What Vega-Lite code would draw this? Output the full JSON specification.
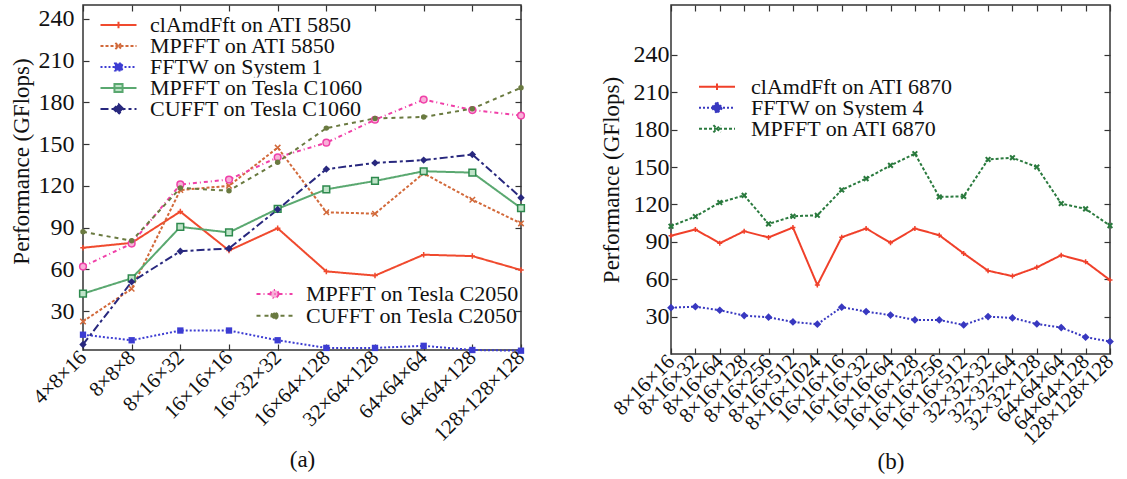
{
  "$schema": "https://vega.github.io/schema/vega-lite/v6.json",
  "background": "white",
  "padding": {"left": 9, "top": 3, "right": 5, "bottom": 0},
  "spacing": 70,
  "config": {
    "font": "Liberation Serif",
    "view": {"stroke": "#333", "strokeWidth": 1.5},
    "axis": {"domain": false, "grid": false, "labelFont": "Liberation Serif", "titleFont": "Liberation Serif", "labelColor": "#111", "titleColor": "#111", "labelFontSize": 24, "titleFontSize": 23, "titleFontWeight": "normal", "tickColor": "#333", "tickWidth": 1.2},
    "legend": {"labelFont": "Liberation Serif", "labelFontSize": 22, "labelColor": "#111", "labelLimit": 0, "padding": 0, "symbolStrokeWidth": 2, "symbolSize": 324, "clipHeight": 21, "rowPadding": 0, "symbolOffset": 9}
  },
  "datasets": {
    "a": [
      {"size": "4×8×16", "series": "clAmdFft on ATI 5850", "gflops": 75.5},
      {"size": "8×8×8", "series": "clAmdFft on ATI 5850", "gflops": 79},
      {"size": "8×16×32", "series": "clAmdFft on ATI 5850", "gflops": 101.5},
      {"size": "16×16×16", "series": "clAmdFft on ATI 5850", "gflops": 73.5},
      {"size": "16×32×32", "series": "clAmdFft on ATI 5850", "gflops": 89.5},
      {"size": "16×64×128", "series": "clAmdFft on ATI 5850", "gflops": 58.5},
      {"size": "32×64×128", "series": "clAmdFft on ATI 5850", "gflops": 55.5},
      {"size": "64×64×64", "series": "clAmdFft on ATI 5850", "gflops": 70.5},
      {"size": "64×64×128", "series": "clAmdFft on ATI 5850", "gflops": 69.5},
      {"size": "128×128×128", "series": "clAmdFft on ATI 5850", "gflops": 59.5},
      {"size": "4×8×16", "series": "MPFFT on ATI 5850", "gflops": 22.5},
      {"size": "8×8×8", "series": "MPFFT on ATI 5850", "gflops": 46},
      {"size": "8×16×32", "series": "MPFFT on ATI 5850", "gflops": 117},
      {"size": "16×16×16", "series": "MPFFT on ATI 5850", "gflops": 120},
      {"size": "16×32×32", "series": "MPFFT on ATI 5850", "gflops": 147.5},
      {"size": "16×64×128", "series": "MPFFT on ATI 5850", "gflops": 101},
      {"size": "32×64×128", "series": "MPFFT on ATI 5850", "gflops": 100},
      {"size": "64×64×64", "series": "MPFFT on ATI 5850", "gflops": 129},
      {"size": "64×64×128", "series": "MPFFT on ATI 5850", "gflops": 110},
      {"size": "128×128×128", "series": "MPFFT on ATI 5850", "gflops": 93},
      {"size": "4×8×16", "series": "FFTW on System 1", "gflops": 13},
      {"size": "8×8×8", "series": "FFTW on System 1", "gflops": 9},
      {"size": "8×16×32", "series": "FFTW on System 1", "gflops": 16},
      {"size": "16×16×16", "series": "FFTW on System 1", "gflops": 16},
      {"size": "16×32×32", "series": "FFTW on System 1", "gflops": 9},
      {"size": "16×64×128", "series": "FFTW on System 1", "gflops": 3.5},
      {"size": "32×64×128", "series": "FFTW on System 1", "gflops": 3.5},
      {"size": "64×64×64", "series": "FFTW on System 1", "gflops": 5},
      {"size": "64×64×128", "series": "FFTW on System 1", "gflops": 2},
      {"size": "128×128×128", "series": "FFTW on System 1", "gflops": 1.5},
      {"size": "4×8×16", "series": "MPFFT on Tesla C1060", "gflops": 42.5},
      {"size": "8×8×8", "series": "MPFFT on Tesla C1060", "gflops": 53.5},
      {"size": "8×16×32", "series": "MPFFT on Tesla C1060", "gflops": 90.5},
      {"size": "16×16×16", "series": "MPFFT on Tesla C1060", "gflops": 86.5},
      {"size": "16×32×32", "series": "MPFFT on Tesla C1060", "gflops": 103.5},
      {"size": "16×64×128", "series": "MPFFT on Tesla C1060", "gflops": 117.5},
      {"size": "32×64×128", "series": "MPFFT on Tesla C1060", "gflops": 123.5},
      {"size": "64×64×64", "series": "MPFFT on Tesla C1060", "gflops": 130.5},
      {"size": "64×64×128", "series": "MPFFT on Tesla C1060", "gflops": 129.5},
      {"size": "128×128×128", "series": "MPFFT on Tesla C1060", "gflops": 104},
      {"size": "4×8×16", "series": "CUFFT on Tesla C1060", "gflops": 6},
      {"size": "8×8×8", "series": "CUFFT on Tesla C1060", "gflops": 51},
      {"size": "8×16×32", "series": "CUFFT on Tesla C1060", "gflops": 73},
      {"size": "16×16×16", "series": "CUFFT on Tesla C1060", "gflops": 75},
      {"size": "16×32×32", "series": "CUFFT on Tesla C1060", "gflops": 103},
      {"size": "16×64×128", "series": "CUFFT on Tesla C1060", "gflops": 132},
      {"size": "32×64×128", "series": "CUFFT on Tesla C1060", "gflops": 136.5},
      {"size": "64×64×64", "series": "CUFFT on Tesla C1060", "gflops": 138.5},
      {"size": "64×64×128", "series": "CUFFT on Tesla C1060", "gflops": 142.5},
      {"size": "128×128×128", "series": "CUFFT on Tesla C1060", "gflops": 111.5},
      {"size": "4×8×16", "series": "MPFFT on Tesla C2050", "gflops": 62},
      {"size": "8×8×8", "series": "MPFFT on Tesla C2050", "gflops": 78.5},
      {"size": "8×16×32", "series": "MPFFT on Tesla C2050", "gflops": 121},
      {"size": "16×16×16", "series": "MPFFT on Tesla C2050", "gflops": 124.5},
      {"size": "16×32×32", "series": "MPFFT on Tesla C2050", "gflops": 140.5},
      {"size": "16×64×128", "series": "MPFFT on Tesla C2050", "gflops": 151},
      {"size": "32×64×128", "series": "MPFFT on Tesla C2050", "gflops": 167.5},
      {"size": "64×64×64", "series": "MPFFT on Tesla C2050", "gflops": 182},
      {"size": "64×64×128", "series": "MPFFT on Tesla C2050", "gflops": 174.5},
      {"size": "128×128×128", "series": "MPFFT on Tesla C2050", "gflops": 170.5},
      {"size": "4×8×16", "series": "CUFFT on Tesla C2050", "gflops": 87},
      {"size": "8×8×8", "series": "CUFFT on Tesla C2050", "gflops": 80.5},
      {"size": "8×16×32", "series": "CUFFT on Tesla C2050", "gflops": 118.5},
      {"size": "16×16×16", "series": "CUFFT on Tesla C2050", "gflops": 116.5},
      {"size": "16×32×32", "series": "CUFFT on Tesla C2050", "gflops": 137},
      {"size": "16×64×128", "series": "CUFFT on Tesla C2050", "gflops": 161.5},
      {"size": "32×64×128", "series": "CUFFT on Tesla C2050", "gflops": 168.5},
      {"size": "64×64×64", "series": "CUFFT on Tesla C2050", "gflops": 169.5},
      {"size": "64×64×128", "series": "CUFFT on Tesla C2050", "gflops": 175.5},
      {"size": "128×128×128", "series": "CUFFT on Tesla C2050", "gflops": 190.5}
    ],
    "b": [
      {"size": "8×16×16", "series": "clAmdFft on ATI 6870", "gflops": 94.8},
      {"size": "8×16×32", "series": "clAmdFft on ATI 6870", "gflops": 99.9},
      {"size": "8×16×64", "series": "clAmdFft on ATI 6870", "gflops": 88.9},
      {"size": "8×16×128", "series": "clAmdFft on ATI 6870", "gflops": 98.5},
      {"size": "8×16×256", "series": "clAmdFft on ATI 6870", "gflops": 93.5},
      {"size": "8×16×512", "series": "clAmdFft on ATI 6870", "gflops": 101.5},
      {"size": "8×16×1024", "series": "clAmdFft on ATI 6870", "gflops": 55.3},
      {"size": "16×16×16", "series": "clAmdFft on ATI 6870", "gflops": 93.7},
      {"size": "16×16×32", "series": "clAmdFft on ATI 6870", "gflops": 100.7},
      {"size": "16×16×64", "series": "clAmdFft on ATI 6870", "gflops": 89.3},
      {"size": "16×16×128", "series": "clAmdFft on ATI 6870", "gflops": 100.7},
      {"size": "16×16×256", "series": "clAmdFft on ATI 6870", "gflops": 95.3},
      {"size": "16×16×512", "series": "clAmdFft on ATI 6870", "gflops": 80.7},
      {"size": "32×32×32", "series": "clAmdFft on ATI 6870", "gflops": 66.8},
      {"size": "32×32×64", "series": "clAmdFft on ATI 6870", "gflops": 62.5},
      {"size": "32×32×128", "series": "clAmdFft on ATI 6870", "gflops": 69.5},
      {"size": "64×64×64", "series": "clAmdFft on ATI 6870", "gflops": 79.3},
      {"size": "64×64×128", "series": "clAmdFft on ATI 6870", "gflops": 74},
      {"size": "128×128×128", "series": "clAmdFft on ATI 6870", "gflops": 59.3},
      {"size": "8×16×16", "series": "FFTW on System 4", "gflops": 37.2},
      {"size": "8×16×32", "series": "FFTW on System 4", "gflops": 38},
      {"size": "8×16×64", "series": "FFTW on System 4", "gflops": 35.1},
      {"size": "8×16×128", "series": "FFTW on System 4", "gflops": 30.8},
      {"size": "8×16×256", "series": "FFTW on System 4", "gflops": 29.5},
      {"size": "8×16×512", "series": "FFTW on System 4", "gflops": 25.7},
      {"size": "8×16×1024", "series": "FFTW on System 4", "gflops": 23.9},
      {"size": "16×16×16", "series": "FFTW on System 4", "gflops": 37.6},
      {"size": "16×16×32", "series": "FFTW on System 4", "gflops": 34},
      {"size": "16×16×64", "series": "FFTW on System 4", "gflops": 31.2},
      {"size": "16×16×128", "series": "FFTW on System 4", "gflops": 27.3},
      {"size": "16×16×256", "series": "FFTW on System 4", "gflops": 27.3},
      {"size": "16×16×512", "series": "FFTW on System 4", "gflops": 23.3},
      {"size": "32×32×32", "series": "FFTW on System 4", "gflops": 30},
      {"size": "32×32×64", "series": "FFTW on System 4", "gflops": 28.9},
      {"size": "32×32×128", "series": "FFTW on System 4", "gflops": 24.1},
      {"size": "64×64×64", "series": "FFTW on System 4", "gflops": 21.2},
      {"size": "64×64×128", "series": "FFTW on System 4", "gflops": 13.5},
      {"size": "128×128×128", "series": "FFTW on System 4", "gflops": 10},
      {"size": "8×16×16", "series": "MPFFT on ATI 6870", "gflops": 102.5},
      {"size": "8×16×32", "series": "MPFFT on ATI 6870", "gflops": 110.3},
      {"size": "8×16×64", "series": "MPFFT on ATI 6870", "gflops": 121.5},
      {"size": "8×16×128", "series": "MPFFT on ATI 6870", "gflops": 127.3},
      {"size": "8×16×256", "series": "MPFFT on ATI 6870", "gflops": 104.4},
      {"size": "8×16×512", "series": "MPFFT on ATI 6870", "gflops": 110.5},
      {"size": "8×16×1024", "series": "MPFFT on ATI 6870", "gflops": 111.3},
      {"size": "16×16×16", "series": "MPFFT on ATI 6870", "gflops": 131.6},
      {"size": "16×16×32", "series": "MPFFT on ATI 6870", "gflops": 140.7},
      {"size": "16×16×64", "series": "MPFFT on ATI 6870", "gflops": 151.3},
      {"size": "16×16×128", "series": "MPFFT on ATI 6870", "gflops": 160.7},
      {"size": "16×16×256", "series": "MPFFT on ATI 6870", "gflops": 126},
      {"size": "16×16×512", "series": "MPFFT on ATI 6870", "gflops": 126.5},
      {"size": "32×32×32", "series": "MPFFT on ATI 6870", "gflops": 156.1},
      {"size": "32×32×64", "series": "MPFFT on ATI 6870", "gflops": 157.5},
      {"size": "32×32×128", "series": "MPFFT on ATI 6870", "gflops": 150},
      {"size": "64×64×64", "series": "MPFFT on ATI 6870", "gflops": 120.7},
      {"size": "64×64×128", "series": "MPFFT on ATI 6870", "gflops": 116.4},
      {"size": "128×128×128", "series": "MPFFT on ATI 6870", "gflops": 103}
    ]
  },
  "hconcat": [
    {
      "width": 438,
      "height": 345,
      "data": {"name": "a"},
      "layer": [
        {
          "transform": [{"filter": {"field": "series", "oneOf": ["clAmdFft on ATI 5850", "MPFFT on ATI 5850", "FFTW on System 1", "MPFFT on Tesla C1060", "CUFFT on Tesla C1060"]}}],
          "encoding": {
            "x": {"field": "size", "type": "ordinal", "scale": {"type": "point", "padding": 0, "domain": ["4×8×16", "8×8×8", "8×16×32", "16×16×16", "16×32×32", "16×64×128", "32×64×128", "64×64×64", "64×64×128", "128×128×128"]}, "axis": {"title": "(a)", "labelAngle": -45, "labelAlign": "right", "labelBaseline": "middle", "labelFontSize": 21, "labelOverlap": false, "tickSize": -6, "labelPadding": 10, "titlePadding": 4}},
            "y": {"field": "gflops", "type": "quantitative", "scale": {"domain": [2, 250], "nice": false, "zero": false}, "axis": {"title": "Performance (GFlops)", "values": [30, 60, 90, 120, 150, 180, 210, 240], "tickSize": -6, "labelPadding": 15, "titlePadding": 5, "titleY": 156}}
          },
          "layer": [
            {
              "mark": {"type": "line", "strokeWidth": 2},
              "encoding": {
                "color": {"field": "series", "type": "nominal", "scale": {"domain": ["clAmdFft on ATI 5850", "MPFFT on ATI 5850", "FFTW on System 1", "MPFFT on Tesla C1060", "CUFFT on Tesla C1060"], "range": ["#f04a2e", "#d2693a", "#3c3cd2", "#5aa870", "#28287e"]},
                  "legend": {"title": null, "orient": "none", "legendX": 7.5, "legendY": 9.5, "labelOffset": 20.5, "symbolOffset": 17, "clipHeight": 21, "rowPadding": 0,
                    "encode": {
                      "entries": {"update": {"clip": {"value": true}, "width": {"value": 285}}},
                      "symbols": {"update": {
                      "shape": {"signal": "datum.value === 'clAmdFft on ATI 5850' ? 'M-2,0H2M0,-0.35V0.35' : datum.value === 'MPFFT on ATI 5850' ? 'M-2,0H2M-0.35,-0.35L0.35,0.35M-0.35,0.35L0.35,-0.35' : datum.value === 'FFTW on System 1' ? 'M-2,0H2M-0.4,-0.4H0.4V0.4H-0.4Z' : datum.value === 'MPFFT on Tesla C1060' ? 'M-2,0H2M-0.45,-0.45H0.45V0.45H-0.45Z' : 'M-2,0H2M0,-0.55L0.55,0L0,0.55L-0.55,0Z'"},
                      "fill": {"signal": "datum.value === 'clAmdFft on ATI 5850' ? '#f04a2e' : datum.value === 'MPFFT on ATI 5850' ? '#d2693a' : datum.value === 'FFTW on System 1' ? '#3c3cd2' : datum.value === 'MPFFT on Tesla C1060' ? '#bfe3c8' : '#28287e'"},
                      "strokeDash": {"signal": "datum.value === 'MPFFT on ATI 5850' ? [3, 2] : datum.value === 'FFTW on System 1' ? [2, 2] : datum.value === 'CUFFT on Tesla C1060' ? [8, 3, 3, 3] : [1, 0]"}
                    }}}}},
                "strokeDash": {"field": "series", "type": "nominal", "legend": null, "scale": {"domain": ["clAmdFft on ATI 5850", "MPFFT on ATI 5850", "FFTW on System 1", "MPFFT on Tesla C1060", "CUFFT on Tesla C1060"], "range": [[1, 0], [3, 2], [2, 2], [1, 0], [8, 3, 3, 3]]}}
              }
            },
            {"transform": [{"filter": "datum.series === 'clAmdFft on ATI 5850'"}], "mark": {"type": "point", "shape": "M-1,0H1M0,-1V1", "size": 30, "filled": false, "stroke": "#f04a2e", "strokeWidth": 1.5, "opacity": 1}},
            {"transform": [{"filter": "datum.series === 'MPFFT on ATI 5850'"}], "mark": {"type": "point", "shape": "M-1,-1L1,1M-1,1L1,-1", "size": 30, "filled": false, "stroke": "#d2693a", "strokeWidth": 1.5, "opacity": 1}},
            {"transform": [{"filter": "datum.series === 'FFTW on System 1'"}], "mark": {"type": "point", "shape": "square", "size": 40, "filled": true, "color": "#3c3cd2", "opacity": 1}},
            {"transform": [{"filter": "datum.series === 'MPFFT on Tesla C1060'"}], "mark": {"type": "point", "shape": "square", "size": 45, "filled": true, "fill": "#bfe3c8", "stroke": "#2e8a4e", "strokeWidth": 1.5, "opacity": 1}},
            {"transform": [{"filter": "datum.series === 'CUFFT on Tesla C1060'"}], "mark": {"type": "point", "shape": "diamond", "size": 55, "filled": true, "color": "#28287e", "opacity": 1}}
          ]
        },
        {
          "transform": [{"filter": {"field": "series", "oneOf": ["MPFFT on Tesla C2050", "CUFFT on Tesla C2050"]}}],
          "encoding": {
            "x": {"field": "size", "type": "ordinal", "scale": {"type": "point", "padding": 0, "domain": ["4×8×16", "8×8×8", "8×16×32", "16×16×16", "16×32×32", "16×64×128", "32×64×128", "64×64×64", "64×64×128", "128×128×128"]}, "axis": null},
            "y": {"field": "gflops", "type": "quantitative", "scale": {"domain": [2, 250], "nice": false, "zero": false}, "axis": null}
          },
          "layer": [
            {
              "mark": {"type": "line", "strokeWidth": 2},
              "encoding": {
                "color": {"field": "series", "type": "nominal", "scale": {"domain": ["MPFFT on Tesla C2050", "CUFFT on Tesla C2050"], "range": ["#f040a8", "#6a7a40"]},
                  "legend": {"title": null, "orient": "none", "legendX": 166.5, "legendY": 278.5, "labelOffset": 20.5, "symbolOffset": 14, "clipHeight": 21, "rowPadding": 0.7,
                    "encode": {
                      "entries": {"update": {"clip": {"value": true}, "width": {"value": 271}}},
                      "symbols": {"update": {
                      "shape": {"signal": "datum.value === 'MPFFT on Tesla C2050' ? 'M-2,0H2M0.45,0A0.45,0.45,0,1,1,-0.45,0A0.45,0.45,0,1,1,0.45,0Z' : 'M-2,0H2M0.35,0A0.35,0.35,0,1,1,-0.35,0A0.35,0.35,0,1,1,0.35,0Z'"},
                      "fill": {"signal": "datum.value === 'MPFFT on Tesla C2050' ? '#f8b0d8' : '#6a7a40'"},
                      "strokeDash": {"signal": "datum.value === 'MPFFT on Tesla C2050' ? [4, 3, 1, 3] : [4, 4]"}
                    }}}}},
                "strokeDash": {"field": "series", "type": "nominal", "legend": null, "scale": {"domain": ["MPFFT on Tesla C2050", "CUFFT on Tesla C2050"], "range": [[4, 3, 1, 3], [4, 4]]}}
              }
            },
            {"transform": [{"filter": "datum.series === 'MPFFT on Tesla C2050'"}], "mark": {"type": "point", "shape": "circle", "size": 45, "filled": true, "fill": "#f8b0d8", "stroke": "#f040a8", "strokeWidth": 1.5, "opacity": 1}},
            {"transform": [{"filter": "datum.series === 'CUFFT on Tesla C2050'"}], "mark": {"type": "point", "shape": "circle", "size": 30, "filled": true, "color": "#6a7a40", "opacity": 1}}
          ]
        },
        {
          "mark": {"type": "point", "opacity": 0},
          "encoding": {
            "x": {"field": "size", "type": "ordinal", "scale": {"type": "point", "padding": 0, "domain": ["4×8×16", "8×8×8", "8×16×32", "16×16×16", "16×32×32", "16×64×128", "32×64×128", "64×64×64", "64×64×128", "128×128×128"]}, "axis": {"orient": "top", "labels": false, "tickSize": -6, "title": null}},
            "y": {"field": "gflops", "type": "quantitative", "scale": {"domain": [2, 250], "nice": false, "zero": false}, "axis": {"orient": "right", "labels": false, "tickSize": -6, "title": null, "values": [30, 60, 90, 120, 150, 180, 210, 240]}}
          }
        }
      ],
      "resolve": {"scale": {"color": "independent", "strokeDash": "independent"}, "axis": {"x": "independent", "y": "independent"}}
    },
    {
      "width": 439,
      "height": 349,
      "data": {"name": "b"},
      "layer": [
        {
          "encoding": {
            "x": {"field": "size", "type": "ordinal", "scale": {"type": "point", "padding": 0, "domain": ["8×16×16", "8×16×32", "8×16×64", "8×16×128", "8×16×256", "8×16×512", "8×16×1024", "16×16×16", "16×16×32", "16×16×64", "16×16×128", "16×16×256", "16×16×512", "32×32×32", "32×32×64", "32×32×128", "64×64×64", "64×64×128", "128×128×128"]}, "axis": {"title": "(b)", "labelAngle": -45, "labelAlign": "right", "labelBaseline": "middle", "labelFontSize": 21, "labelOverlap": false, "tickSize": -6, "labelPadding": 10, "titlePadding": 2}},
            "y": {"field": "gflops", "type": "quantitative", "scale": {"domain": [0, 280], "nice": false, "zero": false}, "axis": {"title": "Performance (GFlops)", "values": [30, 60, 90, 120, 150, 180, 210, 240], "tickSize": -6, "labelPadding": 8, "titlePadding": 10}}
          },
          "layer": [
            {
              "mark": {"type": "line", "strokeWidth": 2},
              "encoding": {
                "color": {"field": "series", "type": "nominal", "scale": {"domain": ["clAmdFft on ATI 6870", "FFTW on System 4", "MPFFT on ATI 6870"], "range": ["#f0402a", "#3838c0", "#2a7a3e"]},
                  "legend": {"title": null, "orient": "none", "legendX": 19, "legendY": 71.5, "labelOffset": 23, "symbolOffset": 16, "clipHeight": 20.5, "rowPadding": 0,
                    "encode": {
                      "entries": {"update": {"clip": {"value": true}, "width": {"value": 280}}},
                      "symbols": {"update": {
                      "shape": {"signal": "datum.value === 'clAmdFft on ATI 6870' ? 'M-2,0H2M0,-0.35V0.35' : datum.value === 'FFTW on System 4' ? 'M-2,0H2M0,-0.6L0.6,0L0,0.6L-0.6,0Z' : 'M-2,0H2M-0.4,-0.4L0.4,0.4M-0.4,0.4L0.4,-0.4'"},
                      "fill": {"signal": "datum.value === 'clAmdFft on ATI 6870' ? '#f0402a' : datum.value === 'FFTW on System 4' ? '#3838c0' : '#2a7a3e'"},
                      "strokeDash": {"signal": "datum.value === 'FFTW on System 4' ? [2, 2] : datum.value === 'MPFFT on ATI 6870' ? [3, 2] : [1, 0]"}
                    }}}}},
                "strokeDash": {"field": "series", "type": "nominal", "legend": null, "scale": {"domain": ["clAmdFft on ATI 6870", "FFTW on System 4", "MPFFT on ATI 6870"], "range": [[1, 0], [2, 2], [3, 2]]}}
              }
            },
            {"transform": [{"filter": "datum.series === 'clAmdFft on ATI 6870'"}], "mark": {"type": "point", "shape": "M-1,0H1M0,-1V1", "size": 25, "filled": false, "stroke": "#f0402a", "strokeWidth": 1.5, "opacity": 1}},
            {"transform": [{"filter": "datum.series === 'FFTW on System 4'"}], "mark": {"type": "point", "shape": "diamond", "size": 60, "filled": true, "color": "#3838c0", "opacity": 1}},
            {"transform": [{"filter": "datum.series === 'MPFFT on ATI 6870'"}], "mark": {"type": "point", "shape": "M-1,-1L1,1M-1,1L1,-1", "size": 22, "filled": false, "stroke": "#2a7a3e", "strokeWidth": 2, "opacity": 1}}
          ]
        },
        {
          "mark": {"type": "point", "opacity": 0},
          "encoding": {
            "x": {"field": "size", "type": "ordinal", "scale": {"type": "point", "padding": 0, "domain": ["8×16×16", "8×16×32", "8×16×64", "8×16×128", "8×16×256", "8×16×512", "8×16×1024", "16×16×16", "16×16×32", "16×16×64", "16×16×128", "16×16×256", "16×16×512", "32×32×32", "32×32×64", "32×32×128", "64×64×64", "64×64×128", "128×128×128"]}, "axis": {"orient": "top", "labels": false, "tickSize": -6, "title": null}},
            "y": {"field": "gflops", "type": "quantitative", "scale": {"domain": [0, 280], "nice": false, "zero": false}, "axis": {"orient": "right", "labels": false, "tickSize": -6, "title": null, "values": [30, 60, 90, 120, 150, 180, 210, 240]}}
          }
        }
      ],
      "resolve": {"axis": {"x": "independent", "y": "independent"}}
    }
  ],
  "resolve": {"scale": {"x": "independent", "y": "independent", "color": "independent", "strokeDash": "independent"}}
}
